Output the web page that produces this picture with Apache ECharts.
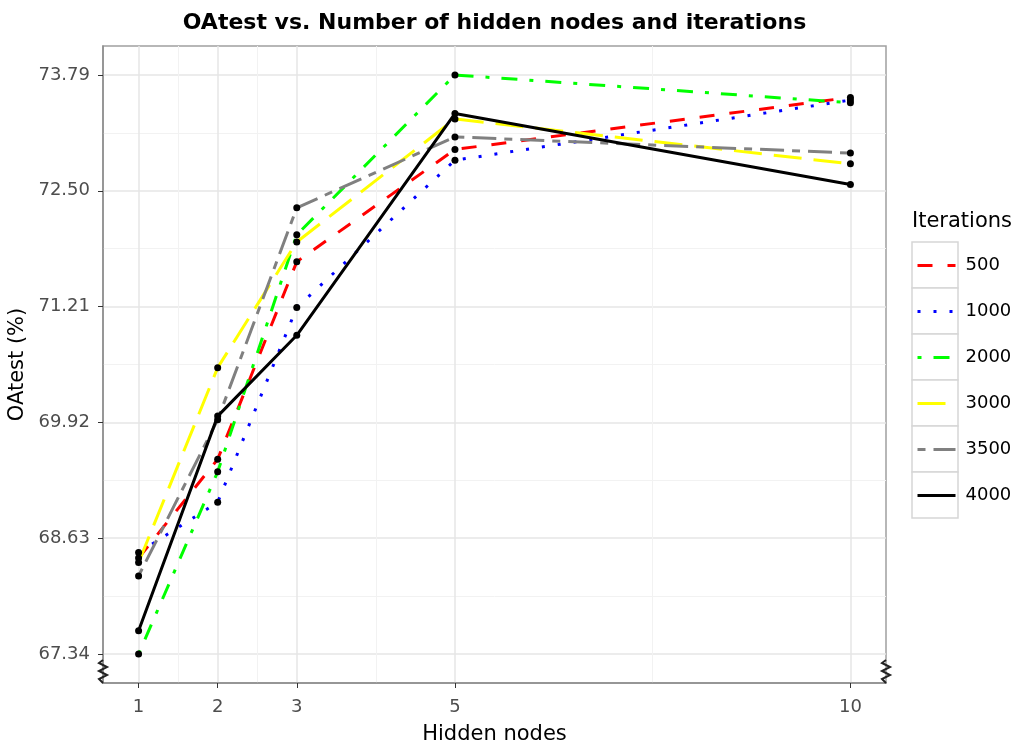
<!DOCTYPE html>
<html>
<head>
<meta charset="utf-8">
<script src="https://cdn.jsdelivr.net/npm/echarts@6/dist/echarts.min.js"></script>
<style>html,body{margin:0;padding:0;background:#fff}#c{width:1015px;height:742px}</style>
</head>
<body>
<div id="c"></div>
<script>
// ---- data ----
const hiddenNodes = [1, 2, 3, 5, 10];
const iterations = ['500', '1000', '2000', '3000', '3500', '4000'];
const it500  = [68.41, 69.51, 71.71, 72.96, 73.54];
const it1000 = [68.47, 69.03, 71.20, 72.84, 73.51];
const it2000 = [67.34, 69.37, 72.01, 73.79, 73.48];
const it3000 = [68.36, 70.53, 71.93, 73.30, 72.80];
const it3500 = [68.21, 69.95, 72.31, 73.10, 72.92];
const it4000 = [67.60, 69.99, 70.89, 73.36, 72.57];
const yTicks = [67.34, 68.63, 69.92, 71.21, 72.50, 73.79];
const yMinorTicks = [67.985, 69.275, 70.565, 71.855, 73.145];
const xMinorTicks = [1.5, 2.5, 4, 7.5];

const seriesValues = [it500, it1000, it2000, it3000, it3500, it4000];
const colors = ['#ff0000', '#0000ff', '#00ff00', '#ffff00', '#808080', '#000000'];
const dashes = [[15, 15], [3, 13], [4, 12, 16, 12], [28, 12], [8, 8, 24, 8], 'solid'];

const FONT = 'DejaVu Sans';
const chart = echarts.init(document.getElementById('c'));

const lineSeries = iterations.map((name, i) => ({
  type: 'line', name: name, xAxisIndex: 0, yAxisIndex: 0,
  data: hiddenNodes.map((x, j) => [x, seriesValues[i][j]]),
  symbol: 'none',
  lineStyle: { color: colors[i], width: 3, type: dashes[i], cap: 'butt' },
  itemStyle: { color: colors[i], opacity: 0 },
  z: 3, animation: false
}));
const pointSeries = iterations.map((name, i) => ({
  type: 'scatter', name: 'pts' + name, xAxisIndex: 0, yAxisIndex: 0,
  data: hiddenNodes.map((x, j) => [x, seriesValues[i][j]]),
  symbol: 'circle', symbolSize: 7,
  itemStyle: { color: '#000', opacity: 1 },
  z: 5, animation: false
}));

const gL = 103, gT = 46, gR = 886, gB = 683;
const legendBoxes = iterations.map((n, i) => ({
  type: 'rect', shape: { x: 912, y: 242 + 46 * i, width: 46, height: 46 },
  style: { fill: '#fff', stroke: '#d6d6d6', lineWidth: 1.5 }, z: 0
}));
function zig(x) {
  return { type: 'polyline', shape: { points: [[x, 660], [x - 4, 663], [x + 4, 667], [x - 4, 671], [x + 4, 675], [x - 4, 679], [x, 683]] },
    style: { stroke: '#222', lineWidth: 2, fill: null }, z: 10 };
}

chart.setOption({
  animation: false,
  backgroundColor: '#fff',
  title: [
    { text: 'OAtest vs. Number of hidden nodes and iterations', left: 494.5, top: 12, textAlign: 'center', padding: 0,
      textStyle: { fontFamily: FONT, fontWeight: 'bold', fontSize: 22, color: '#000' } },
    { text: 'Iterations', left: 912, top: 211, padding: 0,
      textStyle: { fontFamily: FONT, fontWeight: 'normal', fontSize: 21, color: '#000' } }
  ],
  legend: {
    data: iterations, orient: 'vertical', left: 916, top: 252, padding: 0,
    itemWidth: 38, itemHeight: 18, itemGap: 19,
    itemStyle: { opacity: 0 },
    lineStyle: { width: 3 },
    textStyle: { fontFamily: FONT, fontSize: 18, color: '#000', lineHeight: 18, padding: [9, 0, 0, 5] },
    selectedMode: false
  },
  grid: { left: gL, top: gT, right: 1015 - gR, bottom: 742 - gB, show: true, borderColor: '#a0a0a0', borderWidth: 1.5,
    backgroundColor: '#fff', containLabel: false, outerBoundsMode: 'none' },
  xAxis: [
    { type: 'value', min: 0.55, max: 10.45, gridIndex: 0,
      name: 'Hidden nodes', nameLocation: 'middle', nameGap: 41,
      nameTextStyle: { fontFamily: FONT, fontSize: 21, color: '#000' },
      axisLine: { show: true, onZero: false, lineStyle: { color: '#8c8c8c', width: 1.5 } },
      axisTick: { show: true, length: 5, customValues: hiddenNodes, lineStyle: { color: '#333' } },
      axisLabel: { customValues: hiddenNodes, margin: 15, fontFamily: FONT, fontSize: 18, color: '#4d4d4d' },
      splitLine: { show: true, lineStyle: { color: '#e6e6e6', width: 1.5 } } },
    { type: 'value', min: 0.55, max: 10.45, gridIndex: 0, position: 'bottom',
      axisLine: { show: false }, axisTick: { show: false, customValues: xMinorTicks },
      axisLabel: { show: false, customValues: xMinorTicks },
      splitLine: { show: true, lineStyle: { color: '#f2f2f2', width: 1 } } }
  ],
  yAxis: [
    { type: 'value', min: 67.0175, max: 74.1125, gridIndex: 0,
      name: 'OAtest (%)', nameLocation: 'middle', nameGap: 74, nameRotate: 90,
      nameTextStyle: { fontFamily: FONT, fontSize: 21, color: '#000' },
      axisLine: { show: true, onZero: false, lineStyle: { color: '#8c8c8c', width: 1.5 } },
      axisTick: { show: true, length: 5, customValues: yTicks, lineStyle: { color: '#333' } },
      axisLabel: { customValues: yTicks, margin: 13, fontFamily: FONT, fontSize: 18, color: '#4d4d4d',
        formatter: v => v.toFixed(2) },
      splitLine: { show: true, lineStyle: { color: '#e6e6e6', width: 1.5 } } },
    { type: 'value', min: 67.0175, max: 74.1125, gridIndex: 0, position: 'left',
      axisLine: { show: false }, axisTick: { show: false, customValues: yMinorTicks },
      axisLabel: { show: false, customValues: yMinorTicks },
      splitLine: { show: true, lineStyle: { color: '#f2f2f2', width: 1 } } }
  ],
  graphic: legendBoxes.concat([zig(gL), zig(gR)]),
  series: lineSeries.concat(pointSeries)
});
</script>
</body>
</html>
